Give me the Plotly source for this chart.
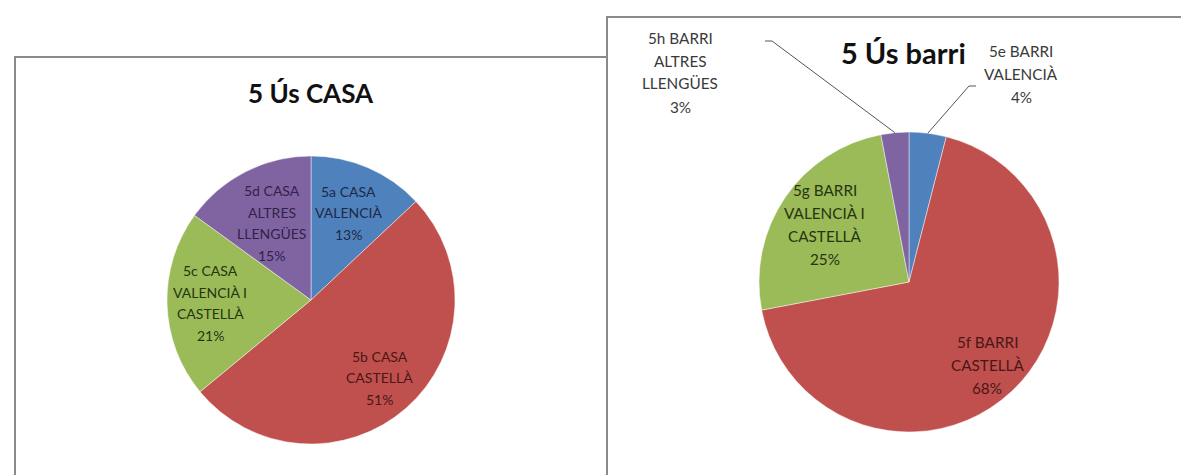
import math
import plotly.graph_objects as go

# ---------------- data ----------------
casa_labels = ["5a CASA VALENCIÀ", "5b CASA CASTELLÀ",
               "5c CASA VALENCIÀ I CASTELLÀ", "5d CASA ALTRES LLENGÜES"]
casa_text = [["5a CASA", "VALENCIÀ"], ["5b CASA", "CASTELLÀ"],
             ["5c CASA", "VALENCIÀ I", "CASTELLÀ"], ["5d CASA", "ALTRES", "LLENGÜES"]]
casa_values = [13, 51, 21, 15]

barri_labels = ["5e BARRI VALENCIÀ", "5f BARRI CASTELLÀ",
                "5g BARRI VALENCIÀ I CASTELLÀ", "5h BARRI ALTRES LLENGÜES"]
barri_text = [["5e BARRI", "VALENCIÀ"], ["5f BARRI", "CASTELLÀ"],
              ["5g BARRI", "VALENCIÀ I", "CASTELLÀ"], ["5h BARRI", "ALTRES", "LLENGÜES"]]
barri_values = [4, 68, 25, 3]

titles = ["5 Ús CASA", "5 Ús barri"]

# ---------------- style ----------------
slice_colors = ["#4F81BD", "#C0504D", "#9BBB59", "#8064A2"]
text_colors = ["#1c2a48", "#4a1717", "#28340f", "#30224a"]
W, H = 1189, 475
FONT = "Lato, 'Open Sans', sans-serif"

# pie geometry in pixels (centre x, centre y, radius)
LEFT = (303, 292, 144)
RIGHT = (901, 274, 150)
# radial fraction of inside labels
left_frac = [0.66, 0.72, 0.70, 0.60]
right_frac = [None, 0.76, 0.68, None]
LEFT_FONT, LEFT_LS = 14, 21.5
RIGHT_FONT, RIGHT_LS = 15.3, 23


def px(x, y):
    return x / W, 1 - y / H


def domain(geo):
    cx, cy, r = geo
    return dict(x=[(cx - r) / W, (cx + r) / W], y=[1 - (cy + r) / H, 1 - (cy - r) / H])


def mid_angles(values):
    total = float(sum(values))
    acc, out = 0.0, []
    for v in values:
        out.append((acc + v / 2.0) / total * 2 * math.pi)
        acc += v
    return out


def point(geo, theta, f):
    cx, cy, r = geo
    return cx + f * r * math.sin(theta), cy - f * r * math.cos(theta)


annotations = []
shapes = []


def add_block(lines, x, y, size, spacing, color):
    n = len(lines)
    for k, ln in enumerate(lines):
        yy = y + (k - (n - 1) / 2.0) * spacing
        xa, ya = px(x, yy)
        annotations.append(dict(text=ln, x=xa, y=ya, xref="paper", yref="paper",
                                showarrow=False, xanchor="center", yanchor="middle",
                                font=dict(family=FONT, size=size, color=color)))


fig = go.Figure()
for vals, labs, geo in [(casa_values, casa_labels, LEFT), (barri_values, barri_labels, RIGHT)]:
    fig.add_trace(go.Pie(
        values=vals, labels=labs, sort=False, direction="clockwise", rotation=0,
        marker=dict(colors=slice_colors, line=dict(color="rgba(255,255,255,0.45)", width=1)),
        textinfo="none", hoverinfo="label+percent", showlegend=False,
        domain=domain(geo),
    ))

# box frames
shapes.append(dict(type="rect", xref="paper", yref="paper",
                   x0=7 / W, x1=599 / W, y0=-0.05, y1=1 - 49 / H,
                   line=dict(color="#8a8a8a", width=2), layer="below"))
shapes.append(dict(type="rect", xref="paper", yref="paper",
                   x0=599 / W, x1=1.05, y0=-0.05, y1=1 - 9 / H,
                   line=dict(color="#8a8a8a", width=2), layer="below"))

# titles
for t, (x, y, s) in zip(titles, [(303, 85, 26), (895, 45, 29)]):
    ax_, ay_ = px(x, y)
    annotations.append(dict(text="<b>%s</b>" % t, x=ax_, y=ay_, xref="paper", yref="paper",
                            showarrow=False, xanchor="center", yanchor="middle",
                            font=dict(family=FONT, size=s, color="#111111")))

# left pie inside labels
total = sum(casa_values)
for i, th in enumerate(mid_angles(casa_values)):
    x, y = point(LEFT, th, left_frac[i])
    pct = round(casa_values[i] / total * 100)
    add_block(casa_text[i] + ["%d%%" % pct], x, y, LEFT_FONT, LEFT_LS, text_colors[i])

# right pie labels
total = sum(barri_values)
mids = mid_angles(barri_values)
outside_pos = {0: (1013, 66, 968, 78, -7), 3: (672, 64, 757, 33, 7)}
for i, th in enumerate(mids):
    pct = round(barri_values[i] / total * 100)
    lines = barri_text[i] + ["%d%%" % pct]
    if right_frac[i] is not None:
        x, y = point(RIGHT, th, right_frac[i])
        col = text_colors[i]
    else:
        x, y, lx, ly, tick = outside_pos[i]
        col = "#3a3a3a"
        ex, ey = point(RIGHT, th, 1.0)
        p0 = px(lx, ly)
        p1 = px(lx + tick, ly)
        p2 = px(ex, ey)
        shapes.append(dict(type="path", xref="paper", yref="paper",
                           path="M %f %f L %f %f L %f %f" % (p0[0], p0[1], p1[0], p1[1], p2[0], p2[1]),
                           line=dict(color="#555555", width=1)))
    add_block(lines, x, y, RIGHT_FONT, RIGHT_LS, col)

fig.update_layout(
    width=W, height=H, margin=dict(l=0, r=0, t=0, b=0),
    paper_bgcolor="white", plot_bgcolor="white",
    annotations=annotations, shapes=shapes,
)

fig.write_html("out.html")
